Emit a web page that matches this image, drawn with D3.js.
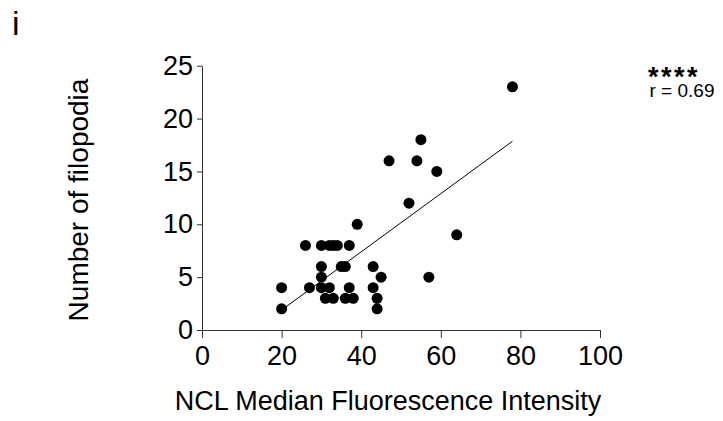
<!DOCTYPE html>
<html>
<head>
<meta charset="utf-8">
<script src="https://cdn.jsdelivr.net/npm/d3@7"></script>
<style>
  body { margin: 0; background: #fff; }
  svg text { font-family: "Liberation Sans", Arial, sans-serif; fill: #000; }
</style>
</head>
<body>
<div id="chart"></div>
<script>
// data
const intensity = [20, 20, 26, 27, 30, 32, 33, 34, 37, 30, 35, 36, 43, 30, 45, 57, 30,
                   32, 37, 43, 31, 33, 36, 38, 44, 44, 39, 52, 47, 54, 59, 55, 78, 64];
const filopodia = [4, 2, 8, 4, 8, 8, 8, 8, 8, 6, 6, 6, 6, 5, 5, 5, 4,
                   4, 4, 4, 3, 3, 3, 3, 3, 2, 10, 12, 16, 16, 15, 18, 23, 9];
const xTicks = [0, 20, 40, 60, 80, 100];
const yTicks = [0, 5, 10, 15, 20, 25];
const panelLabel = "i";
const stars = "****";
const rLabel = "r = 0.69";

const W = 723, H = 421;

const svg = d3.select("#chart")
    .append("svg")
    .attr("width", W)
    .attr("height", H);

const x = d3.scaleLinear().domain([0, 100]).range([202, 600]);
const y = d3.scaleLinear().domain([0, 25]).range([330, 65.7]);

// x axis
const gx = svg.append("g")
    .attr("transform", "translate(0,330)")
    .call(d3.axisBottom(x).tickValues(xTicks).tickSizeInner(8).tickSizeOuter(0).tickPadding(8));
gx.select(".domain").attr("stroke", "#333").attr("d", "M200.5,0.5H600.5");
gx.selectAll(".tick line").attr("stroke", "#333");
gx.selectAll(".tick text").style("font-size", "27px").attr("fill", "#000");

// y axis
const gy = svg.append("g")
    .attr("transform", "translate(202,0)")
    .call(d3.axisLeft(y).tickValues(yTicks).tickSizeInner(5).tickSizeOuter(0).tickPadding(4));
gy.select(".domain").attr("stroke", "#333");
gy.selectAll(".tick line").attr("stroke", "#333");
gy.selectAll(".tick text").style("font-size", "27px").attr("fill", "#000");

// linear fit
const mx = d3.mean(intensity), my = d3.mean(filopodia);
let sxy = 0, sxx = 0;
intensity.forEach((v, i) => { sxy += (v - mx) * (filopodia[i] - my); sxx += (v - mx) * (v - mx); });
const slope = sxy / sxx, icpt = my - slope * mx;
const [x0, x1] = d3.extent(intensity);

svg.append("line")
    .attr("x1", x(x0)).attr("y1", y(icpt + slope * x0))
    .attr("x2", x(x1)).attr("y2", y(icpt + slope * x1))
    .attr("stroke", "#000")
    .attr("stroke-width", 1);

// points
svg.append("g")
    .selectAll("circle")
    .data(intensity)
    .join("circle")
    .attr("cx", d => x(d))
    .attr("cy", (d, i) => y(filopodia[i]))
    .attr("r", 5.5)
    .attr("fill", "#000");

// axis titles
svg.append("text")
    .attr("x", 388)
    .attr("y", 410)
    .attr("text-anchor", "middle")
    .style("font-size", "27px")
    .text("NCL Median Fluorescence Intensity");

svg.append("text")
    .attr("transform", "translate(88,200) rotate(-90)")
    .attr("text-anchor", "middle")
    .style("font-size", "28px")
    .text("Number of filopodia");

// panel letter
svg.append("text")
    .attr("x", 12)
    .attr("y", 35)
    .style("font-size", "34px")
    .text(panelLabel);

// significance
svg.append("text")
    .attr("x", 648)
    .attr("y", 86)
    .style("font-size", "27px")
    .style("font-weight", "bold")
    .style("letter-spacing", "2.5px")
    .text(stars);

svg.append("text")
    .attr("x", 682)
    .attr("y", 97)
    .attr("text-anchor", "middle")
    .style("font-size", "19px")
    .text(rLabel);
</script>
</body>
</html>
